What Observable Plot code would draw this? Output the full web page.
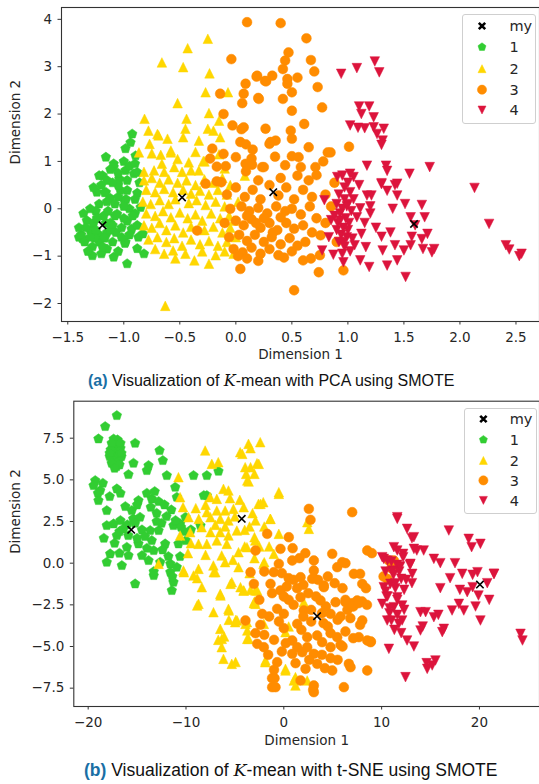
<!DOCTYPE html>
<html><head><meta charset="utf-8">
<script src="https://cdn.jsdelivr.net/npm/d3@7"></script>
<script src="https://cdn.jsdelivr.net/npm/@observablehq/plot@0.6"></script>
<style>
body{margin:0;background:#fff;width:539px;height:784px;position:relative;overflow:hidden;font-family:"DejaVu Sans",sans-serif}
.panel{position:absolute;left:0}
.cap{position:absolute;font-family:"Liberation Sans",Arial,sans-serif;font-size:16px;line-height:18px;color:#111;white-space:nowrap}
.cap b{color:#1a6fa5}
.cap i{font-family:"DejaVu Serif","Liberation Serif",serif;font-style:italic}
.legend{position:absolute;background:rgba(255,255,255,0.85);border:1px solid #cfcfcf;border-radius:3px;box-sizing:border-box}
</style></head><body>
<div id="pa" class="panel" style="top:0"></div>
<div class="cap" style="top:372px;left:88px"><b>(a)</b> Visualization of <i>K</i>-mean with PCA using SMOTE</div>
<div id="pb" class="panel" style="top:390px"></div>
<div class="cap" style="top:760px;left:84px;font-size:17.5px;line-height:20px"><b>(b)</b> Visualization of <i>K</i>-mean with t-SNE using SMOTE</div>
<script>
// ---------- data: panel (a) PCA ----------
const legendLabels = ["my","1","2","3","4"];
const pcaCentroids = [[-1.19,-0.35],[-0.48,0.24],[0.334,0.35],[1.59,-0.32]];
const pcaC1 = [[-0.925,1.58],[-0.94,1.40],[-0.985,1.27],[-1.16,1.09],[-0.895,1.12],[-1.09,0.95],[-1.09,0.88],[-1.12,0.83],[-1.19,0.70],[-1.22,0.70],[-0.985,0.81],[-0.91,0.74],[-0.88,0.77],[-0.97,0.60],[-1.04,0.63],[-1.24,0.35],[-1.16,0.35],[-1.17,0.34],[-1.22,0.10],[-1.12,0.22],[-1.03,0.39],[-0.97,0.39],[-0.995,0.17],[-0.88,0.33],[-0.86,0.55],[-0.85,0.03],[-1.06,-0.11],[-0.97,-0.26],[-0.93,-0.43],[-0.87,-0.60],[-0.83,-0.53],[-0.99,-0.73],[-0.985,-0.70],[-0.88,-0.84],[-0.82,-0.95],[-1.28,-0.99],[-1.09,-1.02],[-0.97,-1.16],[-1.40,-0.60],[-1.37,-0.63],
[-1.36,-0.1],[-1.33,-0.25],[-1.3,-0.45],[-1.38,-0.55],[-1.35,-0.7],[-1.28,-0.8],[-1.22,-0.7],[-1.15,-0.85],[-1.1,-0.7],[-1.07,-0.5],[-1.12,-0.3],[-1.18,-0.15],[-1.25,-0.05],[-1.3,0.0],[-1.22,-0.55],[-1.27,-0.3],[-1.15,-0.5],[-1.08,-0.15],[-1.05,-0.9],[-1.2,-0.95],[-1.32,-0.9],[-1.4,-0.4],[-1.26,-0.62],[-1.17,-0.62],[-1.12,-0.45],[-1.24,-0.2],[-1.3,-0.6],[-1.19,-0.8],[-1.02,-0.4],[-1.0,-0.2],[-0.95,0.0],[-0.9,-0.1],[-0.98,0.2],[-1.05,0.5],[-1.1,0.55],[-1.0,0.05],[-0.92,-0.15],[-0.9,0.2],[-0.88,-0.35],[-1.05,0.25],[-1.08,0.1],[-1.02,-0.6],[-0.95,-0.55],[-1.15,0.6],[-1.0,1.0],[-0.95,0.9],[-0.9,0.95],[-1.05,0.75],[-1.15,0.15],[-1.2,0.5],[-1.27,0.45],[-1.14,-0.05],[-1.34,-0.4],[-1.25,-0.45],[-1.16,-0.3],[-1.1,-0.35]];
const pcaC2 = [[-0.25,3.59],[-0.43,3.39],[-0.66,3.09],[-0.47,2.99],[-0.235,2.86],[-0.07,2.46],[-0.27,2.46],[-0.52,2.23],[-0.24,2.02],[-0.44,1.90],[-0.815,1.90],[-0.25,1.69],[-0.15,1.86],[-0.78,1.65],[-0.45,1.69],[-0.69,1.55],[-0.61,1.48],[-0.47,1.51],[-0.33,1.44],[-0.77,1.37],[-0.58,1.23],[-0.865,1.19],[-0.75,1.17],[-0.67,1.14],[-0.14,1.51],[-0.42,0.98],[-0.28,1.0],[-0.55,0.88],[-0.48,0.78],[-0.40,0.81],[-0.33,0.81],[-0.82,0.78],[-0.73,0.81],[-0.64,0.78],[-0.20,1.65],[-0.70,1.58],[-0.58,1.19],[-0.29,1.01],[-0.63,-2.05],
[-0.82,0.6],[-0.75,0.65],[-0.68,0.55],[-0.6,0.62],[-0.52,0.55],[-0.44,0.6],[-0.36,0.5],[-0.28,0.62],[-0.2,0.55],[-0.12,0.65],[-0.8,0.4],[-0.72,0.35],[-0.64,0.42],[-0.56,0.35],[-0.47,0.4],[-0.4,0.32],[-0.32,0.38],[-0.24,0.3],[-0.16,0.4],[-0.08,0.3],[-0.83,0.15],[-0.76,0.1],[-0.68,0.18],[-0.6,0.1],[-0.54,0.2],[-0.42,0.12],[-0.35,0.18],[-0.27,0.08],[-0.18,0.15],[-0.1,0.05],[-0.8,-0.1],[-0.72,-0.15],[-0.65,-0.05],[-0.58,-0.18],[-0.5,-0.08],[-0.43,-0.2],[-0.36,-0.12],[-0.3,-0.25],[-0.22,-0.1],[-0.14,-0.2],[-0.06,-0.15],[-0.82,-0.35],[-0.75,-0.4],[-0.68,-0.3],[-0.62,-0.45],[-0.54,-0.35],[-0.47,-0.5],[-0.4,-0.38],[-0.28,-0.45],[-0.2,-0.38],[-0.12,-0.5],[-0.05,-0.4],[-0.78,-0.65],[-0.7,-0.6],[-0.62,-0.7],[-0.55,-0.62],[-0.48,-0.78],[-0.4,-0.65],[-0.32,-0.75],[-0.24,-0.68],[-0.16,-0.78],[-0.08,-0.7],[-0.72,-0.85],[-0.64,-0.95],[-0.56,-0.88],[-0.54,-1.05],[-0.45,-0.95],[-0.37,-1.09],[-0.3,-0.9],[-0.24,-1.16],[-0.18,-0.98],[-0.1,-0.9],[-0.02,-0.95],[0.0,-0.6],[-0.02,-0.25],[0.02,0.15],[-0.05,0.5],[0.08,0.7],[-0.1,0.85],[-0.15,1.15],[-0.36,1.2],[-0.52,1.05],[-0.66,0.95]];
const pcaC3 = [[0.10,3.94],[0.40,3.92],[0.63,3.6],[-0.04,3.16],[0.47,3.30],[0.44,3.13],[0.67,3.14],[0.70,2.90],[0.42,2.95],[0.19,2.81],[0.325,2.81],[0.46,2.74],[0.55,2.77],[0.26,2.70],[0.185,2.79],[0.27,2.69],[0.087,2.64],[0.46,2.64],[0.73,2.57],[0.50,2.46],[0.07,2.43],[-0.14,2.43],[0.205,2.32],[0.42,2.32],[0.20,2.34],[0.057,2.23],[0.77,2.14],[0.50,2.07],[-0.11,2.0],[0.61,1.79],[0.265,1.69],[0.49,1.65],[-0.03,1.76],[0.07,1.72],[0.05,1.68],[0.50,1.48],[0.355,1.44],[0.31,1.41],[0.04,1.41],[0.09,1.36],[0.30,1.37],[0.65,1.30],[1.01,1.31],[0.82,1.19],[0.845,1.19],[-0.21,1.27],[-0.11,1.16],[0.0,1.09],[0.14,1.06],[0.50,1.11],[0.56,1.09],[0.235,0.88],[0.44,0.92],[0.58,0.88],[0.71,0.88],[0.72,0.71],[-0.23,1.06],[0.087,0.95],[0.145,0.93],[0.25,0.88],[-0.17,0.89],[-0.09,0.90],[0.09,0.79],[-0.27,0.53],[-0.17,0.58],[-0.13,0.56],[-0.345,-0.46],[0.52,-1.72],[0.04,-1.27],[0.74,-1.34],[0.96,-1.30],[0.75,-0.98],[0.67,-1.05],[0.60,-1.09],[0.43,-1.03],[0.756,-0.56],
[-0.08,0.3],[0.0,0.45],[0.08,0.25],[0.15,0.4],[0.22,0.2],[0.3,0.5],[0.38,0.28],[0.45,0.45],[0.52,0.2],[0.6,0.4],[0.68,0.25],[-0.05,0.0],[0.05,0.05],[0.12,-0.05],[0.2,0.02],[0.28,-0.1],[0.36,0.05],[0.44,-0.05],[0.5,0.0],[0.58,-0.12],[0.66,0.05],[0.72,-0.2],[-0.1,-0.3],[0.0,-0.25],[0.07,-0.35],[0.14,-0.22],[0.22,-0.4],[0.3,-0.3],[0.37,-0.45],[0.45,-0.3],[0.52,-0.42],[0.6,-0.35],[0.68,-0.5],[-0.06,-0.6],[0.03,-0.55],[0.1,-0.68],[0.17,-0.55],[0.25,-0.7],[0.32,-0.6],[0.4,-0.75],[0.48,-0.62],[0.55,-0.78],[0.62,-0.7],[-0.02,-0.85],[0.06,-0.92],[0.14,-0.82],[0.22,-0.95],[0.3,-0.85],[0.38,-0.98],[0.5,-0.9],[0.1,-1.05],[0.2,-1.1],[0.02,-1.0],[0.8,-0.3],[0.8,0.3],[0.85,0.05],[0.9,-0.7],[0.88,0.55],[0.65,0.6],[0.55,0.7],[0.4,0.65],[0.2,0.6],[0.78,1.0],[0.35,1.1],[0.15,1.25],[0.1,-0.15],[0.25,-0.2],[0.4,-0.18],[0.18,-0.3],[0.33,-0.5]];
const pcaC4 = [[0.94,2.85],[1.08,2.97],[1.24,3.11],[1.28,2.88],[1.10,2.16],[1.19,2.16],[1.12,2.0],[1.23,1.93],[1.02,1.76],[1.09,1.71],[1.15,1.70],[1.23,1.72],[1.32,1.69],[1.26,1.58],[1.31,1.44],[1.30,1.35],[1.17,0.91],[1.34,0.91],[1.35,0.80],[1.55,0.74],[1.73,0.88],[0.95,0.70],[1.02,0.74],[1.05,0.67],[1.30,0.54],[1.44,0.53],[2.13,0.44],[2.26,-0.32],[2.41,-0.77],[2.44,-0.86],[2.53,-1.0],[2.55,-0.95],[1.515,-1.44],[1.35,-1.2],[1.19,-1.23],[0.96,-1.13],[0.77,-0.88],[0.87,-0.97],[1.11,-1.09],[1.44,-1.09],[1.75,-0.92],[1.77,-0.85],[1.67,-0.85],[1.56,-0.77],[1.50,-0.88],[1.42,-0.77],[1.31,-0.88],[1.30,-0.59],[1.71,-0.53],[1.66,-0.64],[1.57,-0.59],[1.685,-0.18],[1.56,-0.18],[1.51,0.10],[1.66,0.08],[1.44,0.28],[1.35,0.38],[1.21,0.28],[1.17,0.28],[1.30,0.52],[1.42,0.50],[0.79,0.18],[0.85,-0.24],[1.11,0.01],[1.08,-0.18],[1.15,-0.30],[1.12,-0.53],[1.04,-0.63],[1.06,-0.77],[1.16,-0.81],[0.905,0.67],
[0.92,0.3],[0.97,0.2],[1.02,0.35],[0.9,0.1],[0.95,0.0],[1.0,0.1],[0.93,-0.1],[0.98,-0.2],[1.03,-0.05],[0.91,-0.3],[0.96,-0.4],[1.01,-0.3],[0.94,-0.55],[0.99,-0.6],[0.92,-0.7],[0.97,-0.8],[1.02,-0.9],[0.95,-0.95],[0.9,-0.45],[1.0,-0.45],[0.97,0.45],[1.05,0.2],[0.88,-0.15],[1.0,0.55],[1.1,0.5],[1.2,-0.1],[1.25,-0.4],[1.38,-0.5],[1.4,0.0],[1.6,-0.35],[1.2,0.05],[0.83,-0.6],[0.96,-0.7],[0.93,-0.25],[0.99,0.05]];

// ---------- data: panel (b) t-SNE ----------
const tsneCentroids = [[-15.6,2.0],[-4.3,2.66],[3.4,-3.18],[20.05,-1.28]];
const tsneC1 = [[-17.2,6.0],[-17.2,6.3],[-17.2,6.6],[-17.2,6.9],[-17.2,7.2],[-17.0,6.4],[-17.4,6.5],[-16.9,6.8],[-17.5,6.2],[-17.1,5.8],[-17.3,7.3],[-16.9,6.1],[-17.5,6.9],
[-17.8,6.4],[-17.7,6.8],[-16.6,6.4],[-16.7,6.9],[-17.6,6.0],[-16.8,5.9],[-17.0,7.4],[-17.4,7.45],[-17.6,7.2],[-16.7,7.2],[-17.8,6.6],[-16.6,6.6],[-17.3,5.7],
[-17.07,8.86],[-18.26,8.2],[-18.95,7.46],[-15.2,7.2],[-12.7,6.76],[-12.37,6.16],[-15.37,6.0],[-13.83,5.86],[-14.0,5.56],[-15.88,5.32],[-11.96,5.26],[-9.23,5.26],[-7.87,5.26],[-6.68,5.52],[-19.28,4.96],[-19.45,4.66],[-18.77,4.36],[-11.1,4.56],[-17.07,4.46],[-16.7,4.2],[-18.95,3.76],[-10.94,3.96],[-14.86,3.76],[-13.5,3.86],[-12.8,3.7],[-7.87,4.06],[-18.1,3.16],[-15.54,3.16],[-13.6,3.36],[-14.7,2.76],[-17.4,2.36],[-18.1,2.26],[-16.7,2.56],[-16.4,2.06],[-17.07,1.66],[-15.9,1.66],[-13.66,1.96],[-12.8,1.96],[-11.28,2.26],[-10.6,2.36],[-13.5,1.36],[-12.13,1.16],[-10.77,1.16],[-10.0,1.36],[-14.86,1.16],[-16.05,0.96],[-17.75,0.56],[-18.1,0.06],[-16.56,-0.14],[-15.88,0.46],[-14.5,0.46],[-13.3,0.76],[-13.83,0.16],[-12.64,0.06],[-11.6,-0.04],[-11.6,-0.54],[-13.3,-0.74],[-15.2,-1.24],[-11.28,-1.14],[-11.45,-1.64],[-10.94,-0.24],[-12.5,2.4],[-15.4,2.66],[-11.07,2.56],[-10.05,2.76],[-10.5,2.16],[-8.52,2.26],[-8.18,4.06],[-13.3,-0.5],[-11.4,-0.8],
[-16.0,2.3],[-15.2,2.4],[-14.5,2.0],[-16.8,1.9],[-15.0,1.5],[-14.2,1.6],[-13.0,2.5],[-12.0,2.8],[-11.5,3.2],[-12.2,3.5],[-13.0,3.0],[-16.2,3.4],[-15.0,3.5],[-14.0,4.2],[-13.2,4.3],[-17.8,4.0],[-18.5,4.8],[-19.0,4.2],[-18.4,1.5],[-17.3,1.2],[-16.8,0.6],[-14.0,0.9],[-12.4,0.8],[-11.8,0.4],[-10.6,0.4],[-10.2,1.9],[-9.5,2.0]];
const tsneC2 = [[-3.61,7.16],[-2.41,7.26],[-4.46,6.66],[-3.4,6.9],[-8.04,6.76],[-7.36,5.96],[-6.7,6.06],[-3.95,5.76],[-2.74,6.0],[-3.85,5.36],[-3.0,5.36],[-3.6,4.9],[-10.77,5.16],[-6.17,4.46],[-5.66,4.36],[-10.6,3.96],[-7.53,3.96],[-6.85,3.86],[-2.59,3.56],[-2.1,3.66],[-10.3,3.36],[-7.87,3.06],[-6.85,3.16],[-6.0,3.16],[-5.15,3.26],[-4.1,3.36],[-9.74,2.76],[-8.7,2.66],[-7.5,2.76],[-6.5,2.66],[-5.66,2.56],[-2.9,2.56],[-1.39,2.66],[-9.57,1.86],[-8.4,2.16],[-7.5,1.86],[-6.5,1.86],[-5.66,1.66],[-4.8,1.96],[-10.6,1.66],[-8.72,1.16],[-7.87,1.16],[-6.85,1.36],[-5.83,1.16],[-4.63,0.66],[-6.35,0.46],[-6.0,0.06],[-2.92,1.36],[-3.77,0.96],[-2.08,-0.04],[-8.72,-0.34],[-7.2,-0.14],[-4.63,-0.24],[-10.26,-0.44],[-9.23,-0.74],[-7.0,-0.54],[-8.38,-1.44],[-5.32,-1.14],[-4.12,-1.64],[-2.9,-1.64],[-6.5,-1.84],[-8.72,-2.44],[-7.19,-2.94],[-5.66,-2.74],[-2.9,-2.44],[-6.5,-3.94],[-6.34,-4.54],[-6.7,-4.6],[-6.35,-5.04],[-4.97,-3.54],[-3.77,-3.54],[-3.6,-4.54],[-6.17,-5.74],[-5.32,-6.04],[-1.9,-5.94],[-12.8,-0.04],[-8.86,-2.54],[-6.47,-1.94],[-5.45,-1.24],[-5.62,-2.84],[-5.62,-3.4],[-4.77,-3.44],[-3.92,-3.64],[-6.1,-4.4],[-3.74,-4.54],[-4.09,-1.64],[-3.0,-2.3],[-2.72,-1.64],[-10.22,-0.54],[-8.86,-0.9],[-7.16,-0.54],[-4.25,6.56],[-3.4,5.76],[-2.56,5.96],[-3.74,4.96],[-0.51,4.26],[-2.38,3.56],[-1.36,2.66],[2.56,2.06],[2.4,2.46],[-0.51,1.76],[-1.02,0.56],[-2.0,0.06],[-3.0,1.56],[-4.0,1.0],[-4.43,-1.44],[-3.4,-1.6],[-3.06,-2.4],[-3.74,-4.04],[-4.9,-3.4],[-1.87,-5.84],[0.17,-6.34],[1.02,-7.04],[1.19,-7.34],[-2.04,-3.64],[-4.93,-5.93],[2.04,-2.34],[0.17,-4.14],[0.17,-6.44],[1.19,-6.84],[2.39,-7.04],[0.5,-3.8],[-0.51,4.16],[-2.0,2.2],[-3.5,2.2],[-4.0,2.0],[-5.0,2.8],[-4.5,3.8],[-3.2,3.0],[-5.5,3.9],[-8.0,3.5],[-9.0,3.3],[-9.8,0.6],[-8.0,0.5],[-9.5,1.2],[-7.0,2.3],[-6.0,2.2],[-3.5,-0.6],[-3.0,0.3],[-5.2,0.2],[-1.5,1.0],[-2.5,1.0]];
const tsneC3 = [[2.56,3.26],[2.73,2.6],[6.99,3.06],[0.51,1.56],[-1.7,1.76],[-2.89,0.76],[-0.34,0.86],[3.07,0.16],[4.95,0.56],[5.46,-0.24],[6.3,0.0],[8.53,0.76],[9.0,0.6],[7.16,-0.64],[7.8,-0.64],[8.02,-1.24],[8.4,-1.5],[4.09,-1.44],[2.9,-0.94],[3.07,-0.44],[1.71,-0.84],[0.86,0.16],[-0.51,-0.04],[-1.02,-0.54],[-0.2,-0.6],[0.5,-0.9],[-1.36,-1.24],[-0.34,-1.64],[0.0,-2.0],[0.3,-1.4],[1.36,-1.5],[1.71,-2.04],[-1.2,-1.8],[-3.4,-0.54],[-3.06,-1.24],[-3.92,-3.44],[-2.21,-3.04],[-1.5,-3.2],[-0.68,-2.74],[0.0,-3.04],[1.37,-3.64],[2.04,-2.84],[3.75,-2.24],[4.3,-2.6],[4.78,-3.04],[4.06,-3.6],[5.5,-3.4],[6.31,-2.34],[7.0,-2.4],[7.5,-2.24],[8.0,-2.3],[6.5,-2.8],[8.02,-3.44],[7.8,-3.7],[7.67,-4.44],[8.53,-4.64],[8.9,-4.7],[7.1,-4.5],[6.3,-4.1],[5.46,-4.44],[4.78,-4.2],[3.41,-4.34],[2.39,-4.44],[0.86,-4.64],[1.37,-5.04],[2.39,-5.04],[3.92,-4.74],[4.78,-5.04],[5.8,-4.9],[0.86,-5.44],[1.88,-5.34],[3.07,-5.44],[3.9,-5.5],[4.78,-5.7],[3.41,-6.04],[2.22,-6.34],[1.71,-7.04],[3.07,-7.34],[3.0,-7.6],[4.95,-6.44],[6.65,-6.04],[8.53,-6.44],[6.14,-7.44],[-1.19,-7.44],[-0.68,-5.94],[-1.2,-6.9],[-1.0,-6.4],[-2.04,-5.04],[-2.72,-4.84],[-2.9,-4.2],[-2.0,-4.3],[-2.4,-3.7],[0.0,-3.9],[0.2,-4.8],[4.09,-1.34],[3.07,-0.9],[5.29,-2.34],[6.3,-2.2],[7.1,-2.6],[7.65,-2.4],[8.5,-2.5],[8.87,-4.74],[6.82,-6.24],[3.07,-7.74],[-0.85,-7.44],[-0.95,-6.9],[5.97,0.06],[10.74,0.16],[11.0,-0.3],[11.25,0.16],[11.1,-0.3],[10.57,-0.94],[10.2,-0.8],
[1.0,-1.0],[2.0,-1.3],[2.5,-1.8],[3.5,-1.0],[4.5,-0.8],[5.2,-1.2],[6.0,-1.5],[1.0,-2.5],[2.8,-2.8],[3.3,-2.0],[4.5,-3.8],[2.8,-3.5],[1.8,-4.0],[0.5,-2.2],[-0.5,-3.5],[-1.0,-4.6],[1.2,-6.0],[2.6,-5.8],[4.2,-6.3],[5.5,-5.8],[6.0,-5.0],[-0.2,-5.3],[-1.6,-5.5],[0.9,0.9],[1.6,0.3],[2.2,0.6],[-2.0,-0.5],[-2.5,-2.2],[5.8,-3.2],[6.8,-3.3],[3.9,-3.0],[2.0,-3.2]];
const tsneC4 = [[11.6,2.66],[12.6,2.06],[13.3,1.56],[16.87,1.96],[18.9,1.46],[20.1,1.16],[19.2,0.96],[11.25,0.96],[12.2,0.56],[13.6,0.76],[14.3,0.76],[15.34,0.26],[16.0,0.0],[17.5,0.0],[10.22,0.26],[11.0,0.1],[11.6,-0.1],[12.9,-0.1],[13.13,-0.64],[18.24,-0.64],[19.8,-0.54],[21.47,-0.64],[19.3,-0.7],[10.06,-2.44],[10.5,-2.0],[10.4,-1.7],[10.9,-1.24],[11.4,-1.5],[11.6,-2.2],[12.1,-2.54],[10.57,-3.44],[10.8,-3.0],[11.6,-3.1],[12.1,-3.44],[11.2,-0.7],[11.8,-0.5],[13.1,-1.2],[10.74,-5.14],[12.6,-4.64],[13.3,-5.0],[12.44,-6.84],[14.5,-2.94],[13.97,-4.04],[15.34,-3.24],[15.8,-3.1],[16.36,-3.94],[16.2,-4.14],[15.5,-5.84],[15.17,-6.14],[14.66,-6.34],[17.2,-2.84],[17.9,-2.44],[18.4,-2.84],[18.75,-1.74],[19.3,-1.44],[19.9,-1.94],[20.1,-3.44],[20.8,-1.2],[21.5,-0.64],[24.2,-4.24],[24.4,-4.64],[10.06,0.36],[10.6,0.16],[11.6,0.76],[12.2,0.36],[12.95,-0.04],[11.1,-0.44],[12.0,-0.94],[11.4,-1.2],[12.3,-1.6],[10.22,-1.44],[10.6,-2.0],[11.6,-2.04],[11.25,-2.64],[12.3,-2.8],[11.76,-3.64],[11.0,-3.44],[13.97,-2.94],[14.2,-3.8],[13.1,1.5],[11.6,2.76],[13.3,0.86],[14.6,-6.0],[10.8,-2.7],[11.9,-0.2],[10.4,-0.5],[12.5,-1.0],[11.3,-4.0],[12.0,-4.2],[16.0,-1.5],[17.0,-0.9],[18.0,-1.6],[19.6,-2.6],[21.0,-2.2]];

// ---------- axis ticks ----------
const pcaXTicks = [-1.5,-1.0,-0.5,0.0,0.5,1.0,1.5,2.0,2.5];
const pcaYTicks = [-2,-1,0,1,2,3,4];
const tsneXTicks = [-20,-10,0,10,20];
const tsneYTicks = [-7.5,-5.0,-2.5,0.0,2.5,5.0,7.5];

// ---------- styles ----------
const colors = ["#32cd32","#ffd700","#ff8c00","#dc143c"];
const rad = s => Math.sqrt(s/Math.PI);
const pentagon = {draw(c,s){const r=rad(s)*1.05;for(let k=0;k<5;k++){const a=-Math.PI/2+k*2*Math.PI/5;const x=r*Math.cos(a),y=r*Math.sin(a);k?c.lineTo(x,y):c.moveTo(x,y);}c.closePath();}};
const triUp = {draw(c,s){const r=rad(s);c.moveTo(0,-r);c.lineTo(r,r);c.lineTo(-r,r);c.closePath();}};
const triDown = {draw(c,s){const r=rad(s);c.moveTo(0,r);c.lineTo(r,-r);c.lineTo(-r,-r);c.closePath();}};
const cross = {draw(c,s){const r=rad(s);c.moveTo(-r,-r);c.lineTo(r,r);c.moveTo(-r,r);c.lineTo(r,-r);}};
const symbols = [pentagon, triUp, null, triDown];

function clusterMarks(sets){
  return sets.map((d,i)=>Plot.dot(d,{x:p=>p[0],y:p=>p[1],r:i===2?4.9:4.8,symbol:symbols[i]||"circle",fill:colors[i],stroke:colors[i],strokeWidth:0.5}));
}

function makePlot(o){
  return Plot.plot({
    width:539,height:o.height,marginTop:o.mt,marginLeft:o.ml,marginRight:0,marginBottom:o.mb,
    style:{fontFamily:"DejaVu Sans",fontSize:"13.5px",color:"#262626",background:"white",overflow:"visible"},
    x:{domain:o.xdom},
    y:{domain:o.ydom},
    marks:[
      ...clusterMarks(o.sets),
      Plot.dot(o.cent,{x:p=>p[0],y:p=>p[1],symbol:cross,r:3.7,stroke:"#000",strokeWidth:1.6,fill:"none"}),
      Plot.frame({stroke:"#333",strokeWidth:1.1}),
      Plot.axisX(o.xt,{tickFormat:o.xf,tickSize:3.5,tickPadding:7,label:null,stroke:"#333"}),
      Plot.axisY(o.yt,{tickFormat:o.yf,tickSize:3.5,tickPadding:6,label:null,stroke:"#333"}),
      Plot.text(["Dimension 1"],{frameAnchor:"bottom",dy:o.xly,fontSize:13.5,fill:"#262626"}),
      Plot.text(["Dimension 2"],{frameAnchor:"left",rotate:-90,dx:o.ylx,fontSize:13.5,fill:"#262626"})
    ]
  });
}

document.getElementById("pa").append(makePlot({height:366,mt:7,mb:45,ml:61,xdom:[-1.556,2.71],ydom:[-2.38,4.25],
  sets:[pcaC1,pcaC2,pcaC3,pcaC4],cent:pcaCentroids,xt:pcaXTicks,yt:pcaYTicks,xf:d3.format(".1f"),yf:d3.format("d"),ylx:-46,xly:37}));
document.getElementById("pb").append(makePlot({height:366,mt:10.7,mb:50,ml:73.3,xdom:[-21.47,26.14],ydom:[-8.6,9.72],
  sets:[tsneC1,tsneC2,tsneC3,tsneC4],cent:tsneCentroids,xt:tsneXTicks,yt:tsneYTicks,xf:d3.format("d"),yf:d3.format(".1f"),ylx:-58.3,xly:38.5}));

// ---------- legends ----------
function legend(left,top,w,h,ys,mx,tx){
  const div=document.createElement("div");div.className="legend";
  Object.assign(div.style,{left:left+"px",top:top+"px",width:w+"px",height:h+"px"});
  const svg=d3.create("svg").attr("width",w).attr("height",h).style("position","absolute").style("left","-1px").style("top","-1px");
  legendLabels.forEach((lab,i)=>{
    const g=svg.append("g").attr("transform",`translate(${mx},${ys[i]})`);
    if(i===0){g.append("path").attr("d",d3.symbol(cross,Math.PI*3.2*3.2)()).attr("stroke","#000").attr("stroke-width",2.6).attr("fill","none");}
    else{const sym=symbols[i-1]||d3.symbolCircle;const sz=i===3?Math.PI*4.6*4.6:Math.PI*4.0*4.0;
      g.append("path").attr("d",d3.symbol(sym,sz)()).attr("fill",colors[i-1]).attr("stroke",colors[i-1]).attr("stroke-width",0.5);}
    svg.append("text").attr("x",tx).attr("y",ys[i]).attr("dy","0.36em").attr("font-family","DejaVu Sans").attr("font-size",14.5).attr("fill","#262626").text(lab);
  });
  div.append(svg.node());
  document.body.append(div);
}
legend(461.7,14,74,110,[12,33,54.7,75.7,96],20,47.5);
legend(464.3,408.3,72.4,106,[11,31.7,52.4,72.4,92.4],19.4,45.7);
</script>
</body></html>
